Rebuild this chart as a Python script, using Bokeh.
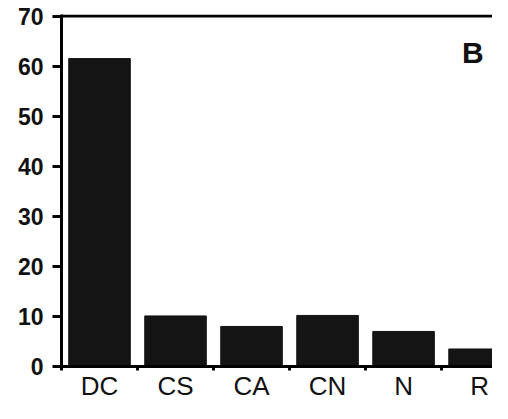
from bokeh.plotting import figure
from bokeh.models import Range1d, FixedTicker, Span, Label, ColumnDataSource
from bokeh.embed import file_html
from bokeh.resources import INLINE

categories = ["DC", "CS", "CA", "CN", "N", "R"]
values = [61.5, 10.1, 8.0, 10.2, 7.0, 3.5]
y_ticks = [0, 10, 20, 30, 40, 50, 60, 70]
panel_letter = "B"

centers = [i + 0.5 for i in range(len(categories))]
boundaries = list(range(len(categories)))

src = ColumnDataSource(dict(x=centers, top=values, cat=categories))

p = figure(width=492, height=403, output_backend="svg", toolbar_location=None,
           x_range=Range1d(0, 5.67), y_range=Range1d(0, 70.3),
           min_border_left=61, min_border_top=14, min_border_bottom=37, min_border_right=0)
p.background_fill_color = "white"
p.border_fill_color = "white"
p.outline_line_color = None
p.grid.visible = False

p.vbar(x="x", top="top", bottom=0, width=0.81, source=src,
       fill_color="#141414", line_color="#141414")

# top border line at 70
p.add_layout(Span(location=70, dimension="width", line_color="black", line_width=3))

# y axis
ya = p.yaxis[0]
ya.ticker = FixedTicker(ticks=y_ticks)
ya.axis_line_width = 3
ya.major_tick_line_width = 3
ya.major_tick_out = 9
ya.major_tick_in = 0
ya.minor_tick_line_color = None
ya.major_label_text_font = "Liberation Sans"
ya.major_label_text_font_style = "bold"
ya.major_label_text_font_size = "23px"
ya.major_label_text_color = "#111111"
ya.major_label_standoff = 9

# x axis
xa = p.xaxis[0]
xa.ticker = FixedTicker(ticks=centers, minor_ticks=boundaries)
xa.major_label_overrides = {c: lab for c, lab in zip(centers, categories)}
xa.axis_line_width = 3
xa.major_tick_line_color = None
xa.major_tick_out = 0
xa.major_tick_in = 0
xa.minor_tick_line_width = 3
xa.minor_tick_out = 4
xa.minor_tick_in = 0
xa.major_label_text_font = "Liberation Sans"
xa.major_label_text_font_size = "26px"
xa.major_label_text_color = "#111111"
xa.major_label_standoff = 0

p.add_layout(Label(x=5.41, y=62.7, text=panel_letter, text_font="Liberation Sans",
                   text_font_style="bold", text_font_size="30px",
                   text_align="center", text_baseline="middle", text_color="#111111"))

open("out.html", "w").write(file_html(p, INLINE))
